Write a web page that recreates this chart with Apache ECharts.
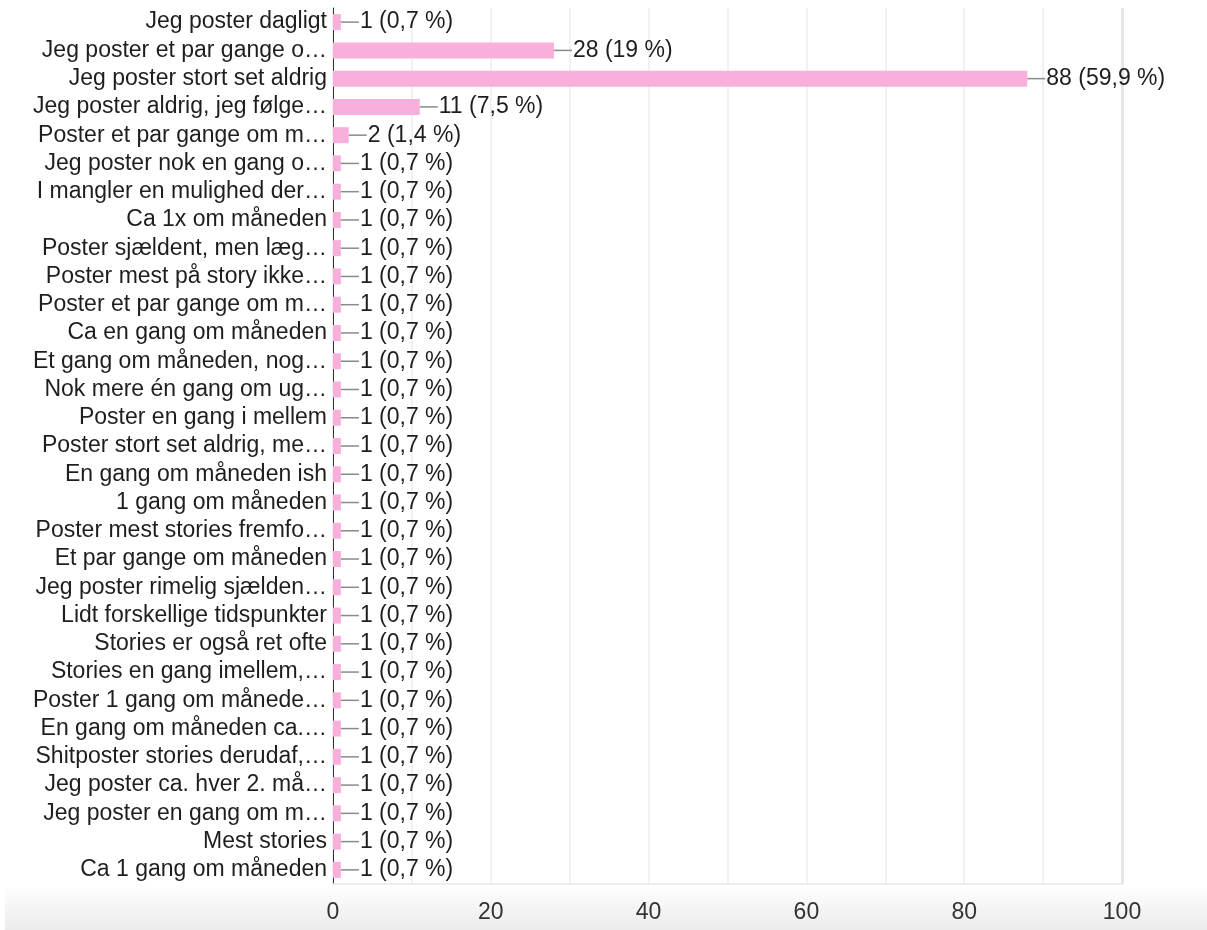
<!DOCTYPE html>
<html>
<head>
<meta charset="utf-8">
<script src="https://cdn.jsdelivr.net/npm/echarts@6/dist/echarts.min.js"></script>
<style>
  html, body { margin: 0; padding: 0; background: #fff; }
  #chart { width: 1207px; height: 930px; }
</style>
</head>
<body>
<div id="chart"></div>
<script>
const categories = [
  'Jeg poster dagligt', 'Jeg poster et par gange o…', 'Jeg poster stort set aldrig',
  'Jeg poster aldrig, jeg følge…', 'Poster et par gange om m…', 'Jeg poster nok en gang o…',
  'I mangler en mulighed der…', 'Ca 1x om måneden', 'Poster sjældent, men læg…',
  'Poster mest på story ikke…', 'Poster et par gange om m…', 'Ca en gang om måneden',
  'Et gang om måneden, nog…', 'Nok mere én gang om ug…', 'Poster en gang i mellem',
  'Poster stort set aldrig, me…', 'En gang om måneden ish', '1 gang om måneden',
  'Poster mest stories fremfo…', 'Et par gange om måneden', 'Jeg poster rimelig sjælden…',
  'Lidt forskellige tidspunkter', 'Stories er også ret ofte', 'Stories en gang imellem,…',
  'Poster 1 gang om månede…', 'En gang om måneden ca.…', 'Shitposter stories derudaf,…',
  'Jeg poster ca. hver 2. må…', 'Jeg poster en gang om m…', 'Mest stories', 'Ca 1 gang om måneden'
];
const counts = [1, 28, 88, 11, 2, 1, 1, 1, 1, 1, 1, 1, 1, 1, 1, 1, 1, 1, 1, 1, 1, 1, 1, 1, 1, 1, 1, 1, 1, 1, 1];
const percents = ['0,7', '19', '59,9', '7,5', '1,4', '0,7', '0,7', '0,7', '0,7', '0,7', '0,7', '0,7', '0,7',
  '0,7', '0,7', '0,7', '0,7', '0,7', '0,7', '0,7', '0,7', '0,7', '0,7', '0,7', '0,7', '0,7', '0,7', '0,7',
  '0,7', '0,7', '0,7'];
const xTicks = [0, 20, 40, 60, 80, 100];

const font = 'Arial, "Liberation Sans", sans-serif';
const chart = echarts.init(document.getElementById('chart'));

chart.setOption({
  animation: false,
  backgroundColor: '#fff',
  graphic: [{
    type: 'rect',
    z: -10,
    silent: true,
    shape: { x: 5, y: 885, width: 1202, height: 45 },
    style: {
      fill: new echarts.graphic.LinearGradient(0, 0, 0, 1, [
        { offset: 0, color: '#ffffff' },
        { offset: 1, color: '#ebebeb' }
      ])
    }
  }],
  grid: { left: 333, right: 85, top: 8, bottom: 46, containLabel: false },
  xAxis: {
    type: 'value',
    min: 0,
    max: 100,
    interval: 10,
    axisLine: { show: true, lineStyle: { color: '#e8e8e8', width: 1.5 } },
    axisTick: { show: false },
    splitLine: { lineStyle: { color: '#ececec', width: 1.5 } },
    axisLabel: {
      color: '#333',
      fontSize: 23,
      fontFamily: font,
      margin: 17,
      formatter: v => (xTicks.indexOf(v) >= 0 ? String(v) : '')
    }
  },
  yAxis: {
    type: 'category',
    inverse: true,
    data: categories,
    axisLine: { lineStyle: { color: '#333', width: 1 } },
    axisTick: { show: false },
    splitLine: { show: false },
    axisLabel: { interval: 0, color: '#1e1e1e', fontSize: 23, fontFamily: font, margin: 6 }
  },
  series: [{
    // dunkel kant ved 100
    type: 'line',
    z: 1,
    data: [],
    markLine: {
      silent: true,
      z: 1,
      symbol: 'none',
      label: { show: false },
      lineStyle: { color: '#e6e6e6', width: 3, type: 'solid' },
      data: [{ xAxis: 100 }]
    }
  }, {
    type: 'bar',
    z: 5,
    data: counts,
    barWidth: 16,
    itemStyle: { color: '#f9afdc' },
    label: {
      show: true,
      position: 'right',
      distance: 0,
      formatter: p => '{l| }{t|' + p.value + ' (' + percents[p.dataIndex] + ' %)}',
      rich: {
        l: { width: 18, height: 1.5, backgroundColor: '#8a8a8a' },
        t: { color: '#1e1e1e', fontSize: 23, fontFamily: font, padding: [0, 0, 0, 1] }
      }
    }
  }]
});
</script>
</body>
</html>
